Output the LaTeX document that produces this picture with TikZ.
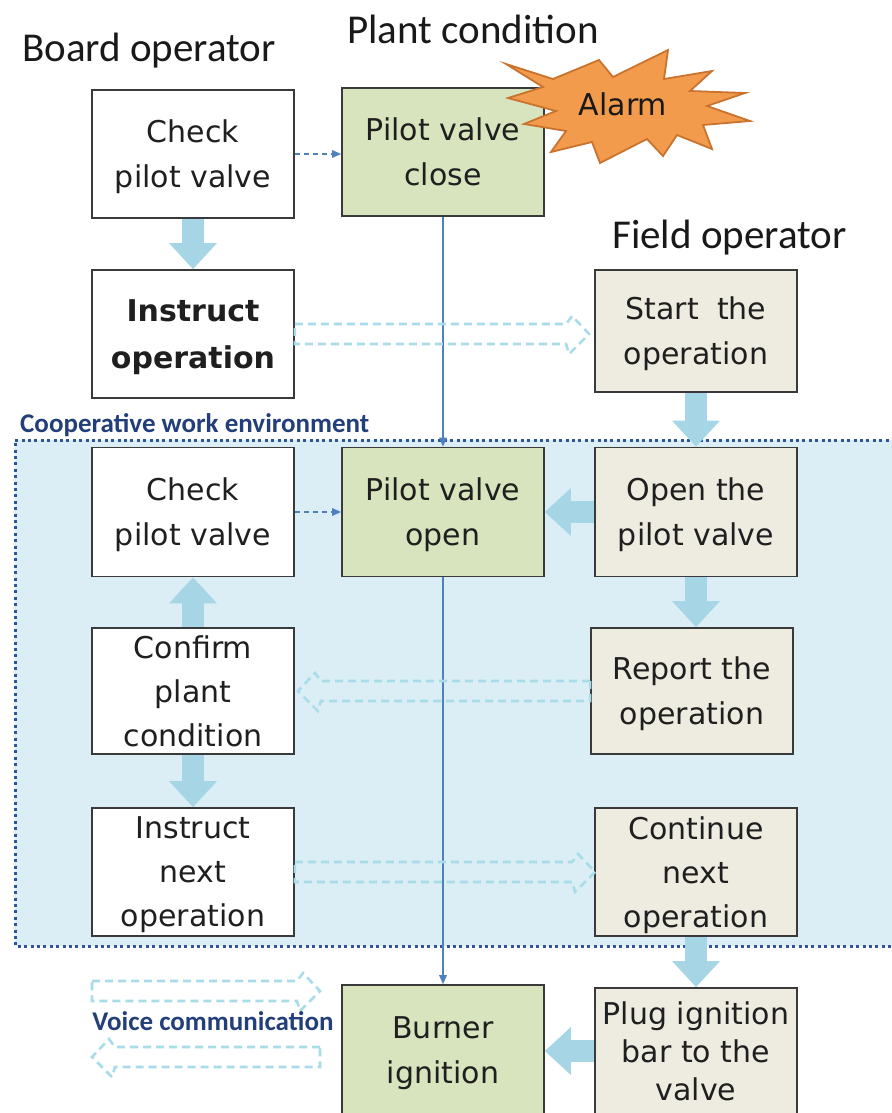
\documentclass[tikz,border=0pt]{standalone}
\usepackage{fontspec}
\setmainfont{DejaVu Sans}
\newfontfamily\titlefont{Carlito}
\usetikzlibrary{arrows.meta,calc}

\definecolor{boxline}{HTML}{3A3A3A}
\definecolor{plantfill}{HTML}{D7E4BD}
\definecolor{fieldfill}{HTML}{EEECE1}
\definecolor{zonefill}{HTML}{DBEEF5}
\definecolor{zoneline}{HTML}{2F5597}
\definecolor{flowblue}{HTML}{A6D6E6}
\definecolor{voiceblue}{HTML}{A9DCE9}
\definecolor{signalblue}{HTML}{4F81BD}
\definecolor{alarmfill}{HTML}{F39B4C}
\definecolor{alarmline}{HTML}{C9732E}
\definecolor{labelblue}{HTML}{223F7A}

\tikzset{
  stepbox/.style={draw=boxline, line width=1.8pt, minimum width=202pt,
    align=center, inner sep=0pt, text=black!88,
    font=\fontsize{30}{45}\selectfont, text depth=-3pt},
  board/.style={stepbox, fill=white},
  plant/.style={stepbox, fill=plantfill},
  field/.style={stepbox, fill=fieldfill},
  flow/.style={draw=flowblue, line width=22pt,
    -{Triangle[width=48pt,length=26pt,line width=0pt]}},
  signal/.style={draw=signalblue, line width=1.3pt,
    -{Triangle[width=8pt,length=9pt,line width=0pt]}},
  probe/.style={signal, dash pattern=on 5pt off 4pt},
  voice/.style={draw=voiceblue, line width=2.6pt, dash pattern=on 8pt off 5pt,
    line join=miter},
  heading/.style={font=\titlefont\fontsize{41}{41}\selectfont, anchor=base west,
    text=black!90, inner sep=0pt},
  tag/.style={font=\titlefont\bfseries\fontsize{27}{27}\selectfont,
    text=labelblue, inner sep=0pt}
}

% hollow dashed arrow along a horizontal centre line, pointing right / left
\newcommand\voiceright[2]{%
  \draw[voice] let \p1=(#1), \p2=(#2) in
    (\x1,\y1+10pt) -- (\x2-23pt,\y1+10pt) -- (\x2-17pt,\y1+18pt) -- (\x2,\y1)
    -- (\x2-20pt,\y1-20pt) -- (\x2-23pt,\y1-10pt) -- (\x1,\y1-10pt) -- cycle;}
\newcommand\voiceleft[2]{%
  \draw[voice] let \p1=(#1), \p2=(#2) in
    (\x1,\y1+10pt) -- (\x2+23pt,\y1+10pt) -- (\x2+17pt,\y1+18pt) -- (\x2,\y1)
    -- (\x2+20pt,\y1-20pt) -- (\x2+23pt,\y1-10pt) -- (\x1,\y1-10pt) -- cycle;}

\begin{document}
\begin{tikzpicture}[x=1pt,y=-1pt]
\useasboundingbox[fill=white] (0,0) rectangle (891,1113);

% cooperative work zone
\fill[zonefill] (15,440) rectangle (895,946);
\draw[zoneline, line width=3pt, dash pattern=on 3pt off 3.4pt] (895,440) -- (15,440) -- (15,946) -- (895,946);
\node[tag, anchor=base west] (zonetag) at (20,432) {Cooperative work environment};

% column headings
\node[heading] (hboard) at (22,62) {Board operator};
\node[heading] (hplant) at (347,44) {Plant condition};
\node[heading] (hfield) at (612,248) {Field operator};

% board operator column
\node[board, minimum height=128pt] (b1) at (193,154) {Check\\pilot valve};
\node[board, minimum height=128pt, font=\bfseries\fontsize{30}{47}\selectfont] (b2) at (193,334) {Instruct\\operation};
\node[board, minimum height=129pt] (b3) at (193,512) {Check\\pilot valve};
\node[board, minimum height=126pt, font=\fontsize{30}{44}\selectfont, text depth=-10pt] (b4) at (193,691) {Confirm\\plant\\condition};
\node[board, minimum height=128pt, font=\fontsize{30}{44}\selectfont] (b5) at (193,872) {Instruct\\next\\operation};

% plant condition column
\node[plant, minimum height=128pt, text depth=-10pt] (p1) at (443,152) {Pilot valve\\close};
\node[plant, minimum height=129pt] (p2) at (443,512) {Pilot valve\\open};
\node[plant, minimum height=130pt, text depth=-7pt] (p3) at (443,1050) {Burner\\ignition};

% field operator column
\node[field, minimum height=122pt] (f1) at (696,331) {Start\hspace{0.6em}the\\operation};
\node[field, minimum height=129pt] (f2) at (696,512) {Open the\\pilot valve};
\node[field, minimum height=126pt] (f3) at (692,691) {Report the\\operation};
\node[field, minimum height=128pt, font=\fontsize{30}{44}\selectfont] (f4) at (696,872) {Continue\\next\\operation};
\node[field, minimum height=126pt, font=\fontsize{30}{38}\selectfont,
  text depth=-4pt] (f5) at (696,1051) {Plug ignition\\bar to the\\valve};

% alarm burst
\filldraw[fill=alarmfill, draw=alarmline, line width=1.8pt, line join=miter]
  (506,64) -- (553,79) -- (599,60) -- (613,77) -- (668,50) -- (664,79)
  -- (712,71) -- (690,91) -- (745,93) -- (707,106) -- (750,121) -- (703,125)
  -- (712,149) -- (677,135) -- (663,156) -- (647,139) -- (600,163) -- (592,142)
  -- (551,152) -- (566,131) -- (524,124) -- (556,111) -- (508,98) -- (543,87)
  -- cycle;
\node[font=\fontsize{30}{30}\selectfont, text=black!90] (alarm) at (623,104) {Alarm};

% plant state signal line
\draw[signal] (p1.south) -- (p2.north);
\draw[signal] (p2.south) -- (p3.north);

% operator checks of the plant
\draw[probe] (b1.east) -- (b1.east -| p1.west);
\draw[probe] (b3.east) -- (b3.east -| p2.west);

% work flow
\draw[flow] (b1.south) -- (b2.north);
\draw[flow] (b4.north) -- (b3.south);
\draw[flow] (b4.south) -- (b5.north);
\draw[flow] (f1.south) -- (f1.south |- f2.north);
\draw[flow] (f2.south) -- (f2.south |- f3.north);
\draw[flow] (f4.south) -- (f4.south |- f5.north);
\draw[flow] (f2.west) -- (p2.east);
\draw[flow] (f5.west) -- (f5.west -| p3.east);

% voice communication
\coordinate (v1) at ($(f1.west |- b2.east)+(-5,0)$);
\voiceright{b2.east}{v1}
\coordinate (v2) at ($(b4.east)+(3,0)$);
\voiceleft{f3.west |- b4.east}{v2}
\coordinate (v3) at ($(f4.west |- b5.east)+(1,0)$);
\voiceright{b5.east}{v3}

% legend
\coordinate (la) at (92,991);
\coordinate (lb) at (320,991);
\coordinate (lc) at (320,1057);
\coordinate (ld) at (92,1057);
\voiceright{la}{lb}
\voiceleft{lc}{ld}
\node[tag] (voicetag) at (213,1021) {Voice communication};
\end{tikzpicture}
\end{document}
